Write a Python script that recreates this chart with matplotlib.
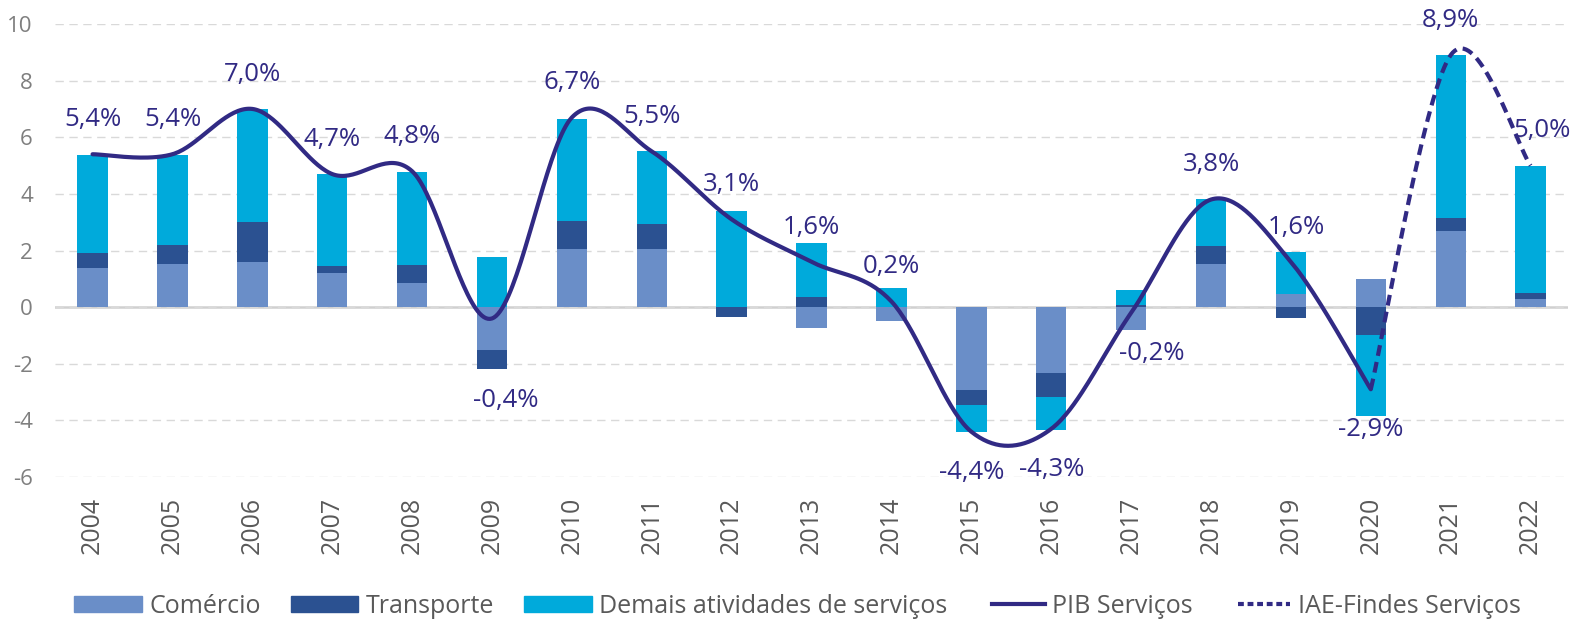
import numpy as np
import matplotlib
matplotlib.use("Agg")
import matplotlib.pyplot as plt
from matplotlib.patches import Patch
from matplotlib.lines import Line2D
from matplotlib.legend_handler import HandlerLine2D
from matplotlib.transforms import ScaledTranslation

plt.rcParams["font.family"] = ["Open Sans", "DejaVu Sans"]
plt.rcParams["axes.unicode_minus"] = False

years = [str(y) for y in range(2004, 2023)]
comercio = [1.37, 1.52, 1.59, 1.20, 0.86, -1.52, 2.05, 2.05, 0.0, -0.75,
            -0.49, -2.92, -2.32, -0.79, 1.52, 0.46, 0.99, 2.69, 0.28]
transporte = [0.54, 0.68, 1.40, 0.26, 0.63, -0.68, 0.99, 0.89, -0.34, 0.35,
              0.0, -0.54, -0.86, 0.07, 0.65, -0.38, -0.99, 0.45, 0.21]
demais = [3.45, 3.17, 4.01, 3.23, 3.28, 1.76, 3.60, 2.57, 3.40, 1.91,
          0.67, -0.96, -1.16, 0.53, 1.64, 1.48, -2.87, 5.76, 4.49]
pib = [5.4, 5.4, 7.0, 4.7, 4.8, -0.4, 6.7, 5.5, 3.1, 1.6, 0.2, -4.4, -4.3,
       -0.2, 3.8, 1.6, -2.9]          # 2004-2020
iae = [-2.9, 8.9, 5.0]                # 2020-2022

C_COM = "#6A8EC8"
C_TRA = "#2B5191"
C_DEM = "#00AADB"
C_LINE = "#312A84"
GRAY = "#595959"


def smooth(xs, ys, n=40):
    # excel-like smoothed line: cubic bezier with catmull-rom handles
    pts = np.column_stack([xs, ys]).astype(float)
    ext = np.vstack([pts[0], pts, pts[-1]])
    t = np.linspace(0, 1, n)[:, None]
    out = [pts[:1]]
    for i in range(len(pts) - 1):
        p0, p1, p2, p3 = ext[i], ext[i + 1], ext[i + 2], ext[i + 3]
        c1 = p1 + (p2 - p0) / 6
        c2 = p2 - (p3 - p1) / 6
        seg = ((1 - t) ** 3 * p1 + 3 * (1 - t) ** 2 * t * c1
               + 3 * (1 - t) * t ** 2 * c2 + t ** 3 * p2)
        out.append(seg[1:])
    out = np.vstack(out)
    return out[:, 0], out[:, 1]


fig = plt.figure(figsize=(15.76, 6.2), dpi=100)
ax = fig.add_axes([0.0349, 0.2306, 0.9601, 0.7307])

x = np.arange(len(years))
w = 0.38
pos_base = np.zeros(len(x))
neg_base = np.zeros(len(x))
for vals, col in [(comercio, C_COM), (transporte, C_TRA), (demais, C_DEM)]:
    v = np.array(vals)
    base = np.where(v >= 0, pos_base, neg_base)
    ax.bar(x, v, w, bottom=base, color=col, zorder=2)
    pos_base += np.where(v >= 0, v, 0)
    neg_base += np.where(v < 0, v, 0)

sx, sy = smooth(x[:len(pib)], pib)
ax.plot(sx, sy, color=C_LINE, lw=3, zorder=3, solid_capstyle="round")
sx, sy = smooth(x[len(pib) - 1:], iae)
ax.plot(sx, sy, color=C_LINE, lw=3, ls=(0, (2.6, 1.5)), zorder=3)

# data labels
label_vals = pib + iae[1:]
nudge = {5: (10, -30), 13: (15, 0), 15: (4, 0), 18: (8, 0)}
for i, v in enumerate(label_vals):
    dy = 25 if v >= 0 else -29
    dx, extra = nudge.get(i, (0, 0))
    ax.annotate(f"{v:.1f}".replace(".", ",") + "%", (x[i], v),
                xytext=(dx, dy + extra), textcoords="offset points",
                ha="center", va="center", fontsize=18.5, color=C_LINE, zorder=4)

ax.set_xlim(-0.47, len(years) - 0.53)
ax.set_ylim(-6, 10)
ax.set_yticks(range(-6, 11, 2))
ax.set_xticks(x)
ax.set_xticklabels(years, rotation=90, fontsize=18, color=GRAY)
for lab in ax.get_xticklabels():
    lab.set_transform(lab.get_transform() + ScaledTranslation(5 / 100, 0, fig.dpi_scale_trans))
ax.tick_params(axis="x", length=0, pad=14)
ax.tick_params(axis="y", length=0, pad=16, labelsize=16, labelcolor="#7F7F7F")

ax.grid(axis="y", color="#D9D9D9", lw=1, ls=(0, (6, 4)), zorder=0)
ax.axhline(0, color="#D0D0D0", lw=1.8, zorder=1)
for s in ax.spines.values():
    s.set_visible(False)


class ShortLine(HandlerLine2D):
    def create_artists(self, legend, orig_handle, xdescent, ydescent, width,
                       height, fontsize, trans):
        return super().create_artists(legend, orig_handle, xdescent - width * 0.22,
                                       ydescent, width * 0.78, height, fontsize, trans)


handles = [Patch(color=C_COM), Patch(color=C_TRA), Patch(color=C_DEM),
           Line2D([], [], color=C_LINE, lw=3),
           Line2D([], [], color=C_LINE, lw=3, ls=(0, (1.4, 0.9)))]
labels = ["Comércio", "Transporte", "Demais atividades de serviços",
          "PIB Serviços", "IAE-Findes Serviços"]
leg = fig.legend(handles, labels, loc="center", bbox_to_anchor=(0.506, 0.022),
                 ncol=5, frameon=False, fontsize=18, handlelength=2.7,
                 handleheight=0.64, handletextpad=0.3, columnspacing=1.2,
                 handler_map={Line2D: ShortLine()})
for t in leg.get_texts():
    t.set_color(GRAY)

fig.savefig("out.png", dpi=100)
